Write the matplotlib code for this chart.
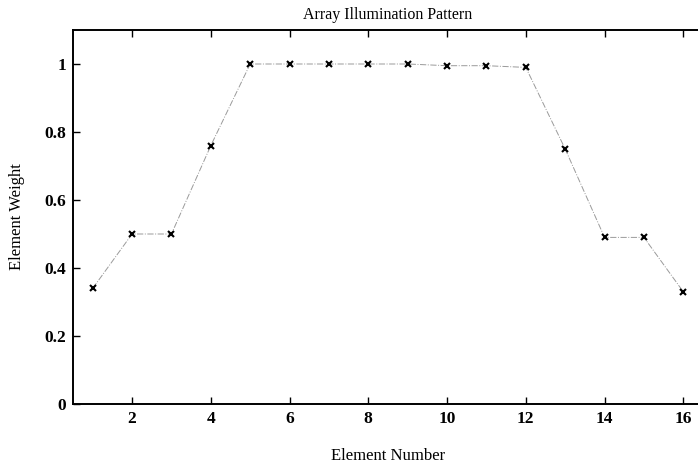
import matplotlib
matplotlib.use("Agg")
import matplotlib.pyplot as plt

elements = [1, 2, 3, 4, 5, 6, 7, 8, 9, 10, 11, 12, 13, 14, 15, 16]
weights = [0.34, 0.50, 0.50, 0.76, 1.00, 1.00, 1.00, 1.00, 1.00, 0.995, 0.995, 0.99,
           0.75, 0.49, 0.49, 0.33]
xticks = [2, 4, 6, 8, 10, 12, 14, 16]
yticks = [0, 0.2, 0.4, 0.6, 0.8, 1]
yticklabels = ["0", "0.2", "0.4", "0.6", "0.8", "1"]

plt.rcParams['font.family'] = ['Liberation Serif', 'DejaVu Serif']

fig = plt.figure(figsize=(6.98, 4.68), dpi=100)
ax = fig.add_axes([73 / 698, 64 / 468, (703 - 73) / 698, (404 - 30) / 468])

ax.plot(elements, weights, linestyle='-.', color='#9a9a9a', linewidth=0.7)
ax.plot(elements, weights, linestyle='none', marker='x', color='black',
        markersize=4, markeredgewidth=1.5)

ax.set_xlim(0.5, 16.5)
ax.set_ylim(0, 1.1)
ax.set_xticks(xticks)
ax.set_yticks(yticks)
ax.set_yticklabels(yticklabels)
ax.tick_params(direction='in', length=5, width=1, labelsize=12.5, top=True, right=False,
               pad=5)
for lab in ax.get_xticklabels() + ax.get_yticklabels():
    lab.set_fontweight('bold')
for s in ['left', 'bottom', 'top']:
    ax.spines[s].set_linewidth(1.4)
ax.spines['right'].set_visible(False)

ax.set_title("Array Illumination Pattern", fontsize=11.5, pad=8)
ax.set_xlabel("Element Number", fontsize=12, labelpad=15)
ax.set_ylabel("Element Weight", fontsize=12, labelpad=14)

fig.savefig("out.png", dpi=100)
